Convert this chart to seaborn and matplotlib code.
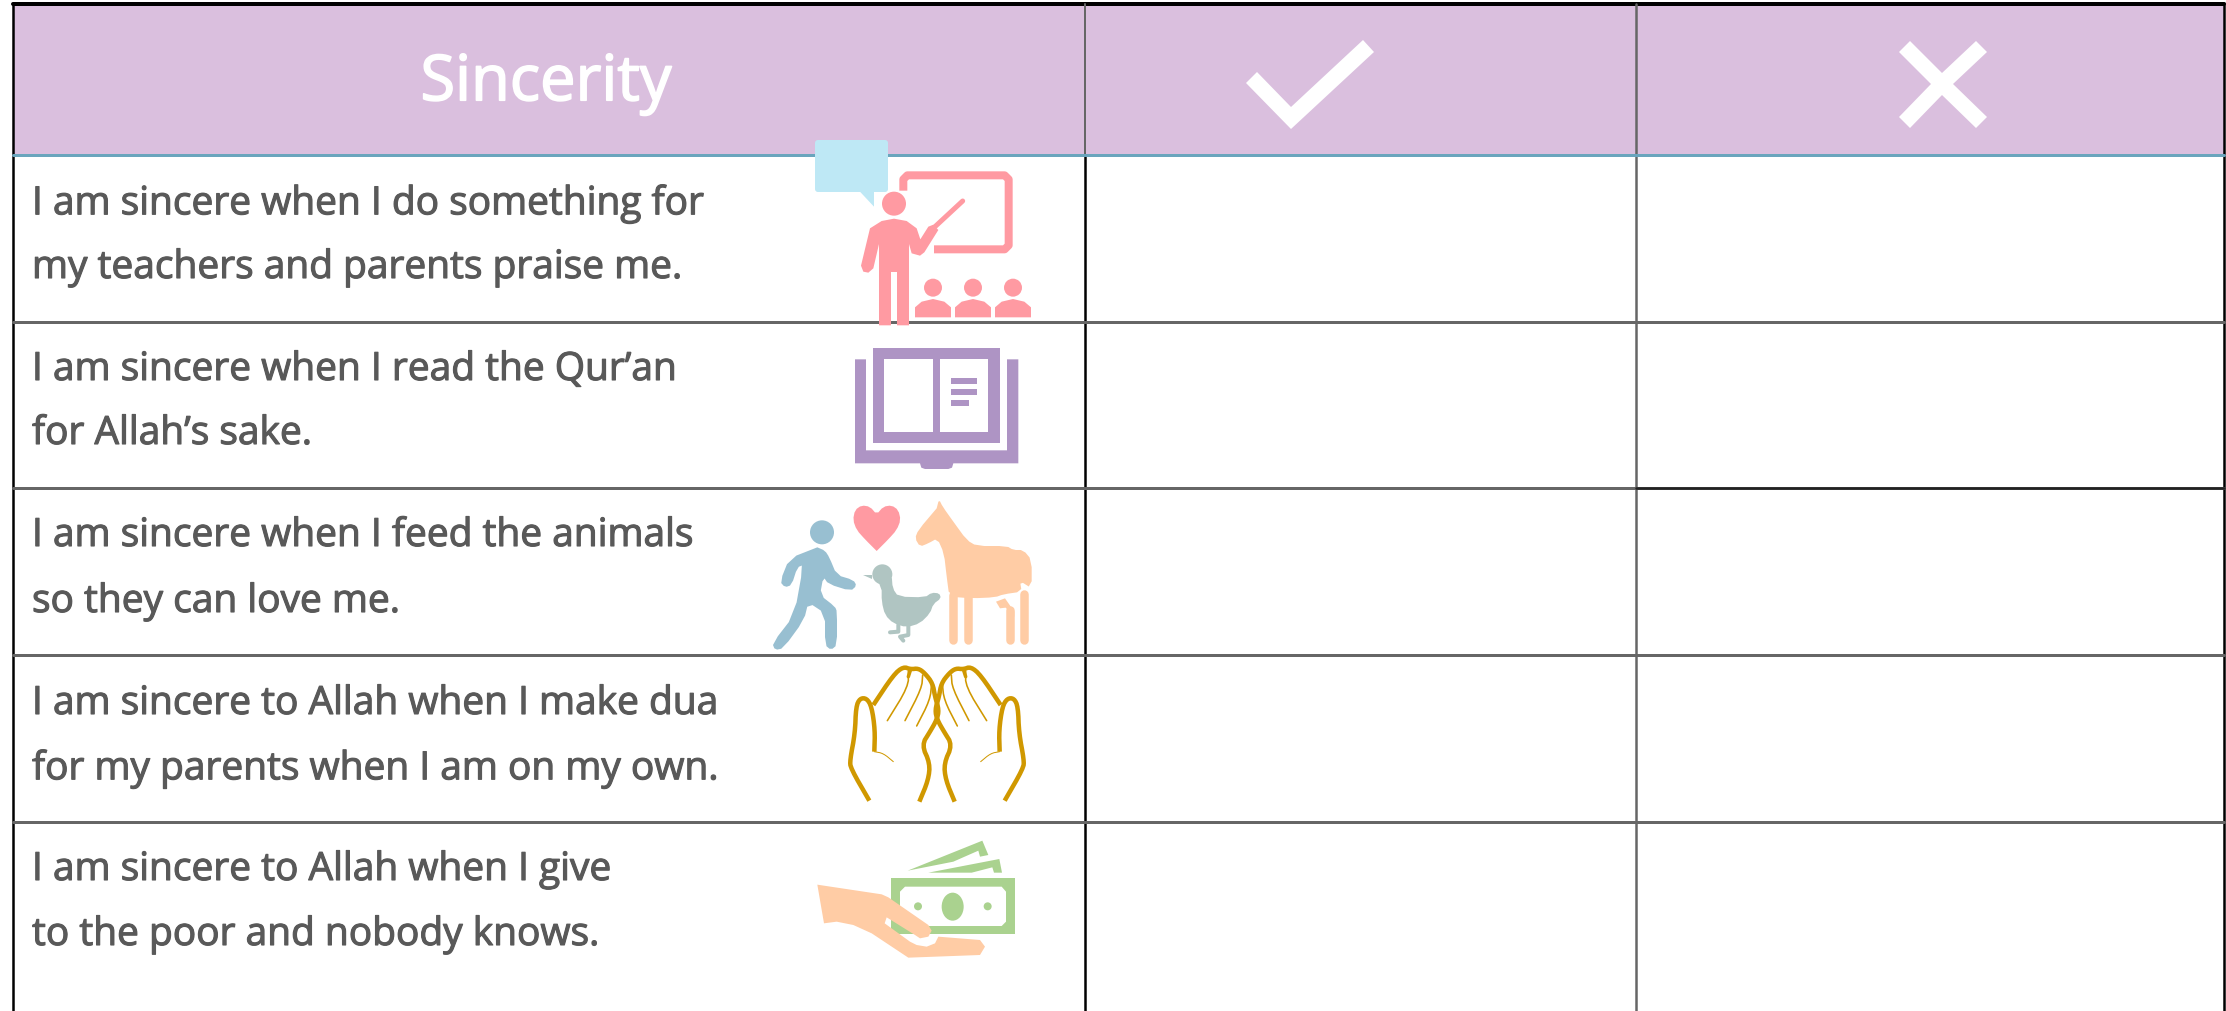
import matplotlib

matplotlib.use("Agg")

import matplotlib.patheffects as pe
import matplotlib.pyplot as plt
import numpy as np
import seaborn as sns
from matplotlib.colors import ListedColormap
from matplotlib.patches import Circle, Ellipse, FancyBboxPatch, Polygon

WIDTH = 2226
HEIGHT = 1011

HEADER_TITLE = "Sincerity"
ROW_LINES = [
    ["I am sincere when I do something for", "my teachers and parents praise me."],
    ["I am sincere when I read the Qur’an", "for Allah’s sake."],
    ["I am sincere when I feed the animals", "so they can love me."],
    ["I am sincere to Allah when I make dua", "for my parents when I am on my own."],
    ["I am sincere to Allah when I give", "to the poor and nobody knows."],
]
LINE_CENTERS = [(204, 268), (370, 434), (536, 602), (704, 769), (870, 935)]
ROW_EDGES = [322, 488, 655, 822]
COLUMN_EDGES = [13, 1085, 1636, 2224]

PURPLE = "#DABFDE"
TEXT_GREY = "#595959"
LINE_GREY = "#666666"
TEAL = "#6AA5BD"
PINK = "#FF9AA2"
BUBBLE = "#BEE8F5"
LILAC = "#AE94C4"
BLUE = "#98BFD1"
DUCK = "#B0C5C2"
PEACH = "#FFCCA5"
GOLD = "#D09800"
GREEN = "#AAD28F"


def px(width):
    return width * 72 / 100


def zoom_a(points):
    # icon outlines for rows 1 and 2, traced at 3x from x=740, y=120
    return [(740 + x / 3, 120 + y / 3) for x, y in points]


def zoom_b(points):
    # icon outlines for rows 3 to 5, traced at 3x from x=740, y=480
    return [(740 + x / 3, 480 + y / 3) for x, y in points]


def smooth(points, rounds=2):
    for _ in range(rounds):
        pts = np.array(points, dtype=float)
        left = pts[:-1] * 0.75 + pts[1:] * 0.25
        right = pts[:-1] * 0.25 + pts[1:] * 0.75
        middle = np.empty((left.shape[0] * 2, 2))
        middle[0::2] = left
        middle[1::2] = right
        points = [tuple(pts[0]), *map(tuple, middle), tuple(pts[-1])]
    return points


def smooth_closed(points, rounds=2):
    return smooth([*points, points[0]], rounds)


def fill(ax, points, color, z=5):
    ax.add_patch(Polygon(points, closed=True, facecolor=color, edgecolor="none", zorder=z))


def stroke(ax, points, color, width, z=5, cap="round"):
    xs, ys = zip(*points)
    ax.plot(xs, ys, color=color, lw=px(width), solid_capstyle=cap,
            solid_joinstyle="round", zorder=z)


def draw_grid(ax):
    bottom = HEIGHT
    ax.plot([13, 2224], [4, 4], color="black", lw=px(4), zorder=3)
    ax.plot([13, 13], [3, bottom], color="black", lw=px(2.5), zorder=3)
    ax.plot([2224, 2224], [3, bottom], color="black", lw=px(2.5), zorder=3)
    ax.plot([1085, 1085], [4, 155], color=LINE_GREY, lw=px(2), zorder=3)
    ax.plot([1085, 1085], [155, bottom], color="black", lw=px(2.5), zorder=3)
    ax.plot([1636, 1636], [4, bottom], color=LINE_GREY, lw=px(2.5), zorder=3)
    ax.plot([13, 2224], [155, 155], color=TEAL, lw=px(3), zorder=3)
    for y in ROW_EDGES:
        ax.plot([13, 2224], [y, y], color=LINE_GREY, lw=px(3), zorder=3)
    ax.plot([1636, 2224], [488, 488], color="#222222", lw=px(2.5), zorder=3)


def draw_header_marks(ax):
    check = [(1246, 83), (1257, 72), (1291, 107), (1363, 40), (1374, 52), (1291, 129)]
    cross = [
        (1910, 41), (1942, 73), (1976, 41), (1987, 52), (1953, 84), (1987, 117),
        (1976, 128), (1942, 95), (1910, 128), (1899, 117), (1931, 84), (1899, 52),
    ]
    fill(ax, check, "white")
    fill(ax, cross, "white")


def draw_teacher(ax):
    bubble = FancyBboxPatch((817, 142), 69, 48, boxstyle="round,pad=2,rounding_size=3",
                            facecolor=BUBBLE, edgecolor="none", zorder=5)
    ax.add_patch(bubble)
    fill(ax, zoom_a([(358, 213), (402, 260), (402, 213)]), BUBBLE)

    board = [(490, 212), (490, 178), (502, 166), (794, 166), (806, 178),
             (806, 376), (794, 388), (582, 388)]
    stroke(ax, zoom_a(board), PINK, 8, cap="butt")

    cx, cy = zoom_a([(462, 251)])[0]
    ax.add_patch(Circle((cx, cy), 12, facecolor=PINK, edgecolor="none", zorder=6))
    body = [
        (390, 325), (425, 303), (462, 296), (500, 303), (530, 325), (541, 358),
        (565, 320), (580, 314), (595, 330), (553, 397), (540, 407), (515, 400),
        (507, 372), (507, 616), (471, 616), (471, 456), (453, 456), (453, 616),
        (417, 616), (417, 372), (400, 445), (385, 458), (370, 455), (363, 437),
    ]
    fill(ax, zoom_a(body), PINK, z=6)
    stroke(ax, zoom_a([(585, 320), (668, 243)]), PINK, 5, z=6)

    for shift in (0, 120, 240):
        hx, hy = zoom_a([(579 + shift, 503)])[0]
        ax.add_patch(Circle((hx, hy), 9, facecolor=PINK, edgecolor="none", zorder=5))
        seat = [(525, 592), (525, 562), (545, 545), (579, 537), (613, 545), (633, 562), (633, 592)]
        fill(ax, zoom_a([(x + shift, y) for x, y in seat]), PINK)


def draw_book(ax):
    fill(ax, zoom_a([(400, 685), (779, 685), (779, 968), (400, 968)]), LILAC)
    fill(ax, zoom_a([(433, 718), (579, 718), (579, 935), (433, 935)]), "white")
    fill(ax, zoom_a([(600, 718), (745, 718), (745, 935), (600, 935)]), "white")
    for top, right in ((774, 711), (807, 711), (840, 687)):
        fill(ax, zoom_a([(633, top), (right, top), (right, top + 18), (633, top + 18)]), LILAC)
    cover = [(345, 718), (378, 718), (378, 991), (801, 991), (801, 718), (835, 718),
             (835, 1030), (640, 1030), (636, 1043), (625, 1047), (555, 1047), (544, 1043),
             (540, 1030), (345, 1030)]
    fill(ax, zoom_a(cover), LILAC)


def draw_animals(ax):
    # walking man
    cx, cy = zoom_b([(246, 157)])[0]
    ax.add_patch(Circle((cx, cy), 12, facecolor=BLUE, edgecolor="none", zorder=5))
    man = [(232, 202), (255, 212), (268, 232), (290, 285), (340, 300), (350, 317),
           (332, 333), (265, 312), (250, 290), (240, 345), (285, 380), (291, 395),
           (291, 495), (273, 510), (255, 495), (255, 400), (205, 367), (192, 420),
           (130, 505), (105, 510), (97, 490), (163, 405), (190, 255), (172, 262),
           (155, 315), (135, 322), (120, 305), (148, 235)]
    fill(ax, zoom_b(smooth_closed(man, 1)), BLUE)

    heart = [(410, 213), (375, 178), (350, 150), (339, 120), (345, 90), (365, 76),
             (390, 80), (410, 103), (430, 80), (455, 76), (475, 90), (482, 120),
             (470, 150), (445, 178)]
    fill(ax, zoom_b(smooth_closed(heart, 1)), PINK)

    # duck
    cx, cy = zoom_b([(427, 283)])[0]
    ax.add_patch(Circle((cx, cy), 10, facecolor=DUCK, edgecolor="none", zorder=5))
    fill(ax, zoom_b([(368, 285), (395, 285), (395, 298)]), DUCK)
    duck = [(398, 290), (455, 285), (458, 325), (475, 350), (555, 352), (575, 338),
            (598, 340), (603, 355), (580, 372), (570, 400), (540, 430), (500, 442),
            (460, 430), (435, 405), (425, 365), (425, 320)]
    fill(ax, zoom_b(smooth_closed(duck, 1)), DUCK)
    stroke(ax, zoom_b([(475, 435), (475, 455), (450, 457)]), DUCK, 4)
    stroke(ax, zoom_b([(505, 438), (505, 465), (480, 470), (490, 482)]), DUCK, 4)

    # horse
    horse = [(590, 85), (597, 58), (608, 80), (640, 125), (680, 180), (710, 198),
             (800, 198), (820, 210), (850, 210), (875, 240), (875, 325), (840, 303),
             (845, 335), (790, 343), (765, 352), (695, 355), (628, 350), (620, 290),
             (612, 220), (592, 175), (565, 190), (540, 200), (525, 175), (535, 150)]
    fill(ax, zoom_b(smooth_closed(horse, 1)), PEACH)
    for x in (640, 683):
        stroke(ax, zoom_b([(x, 345), (x, 480)]), PEACH, 8.5)
    stroke(ax, zoom_b([(810, 390), (810, 480)]), PEACH, 8.5)
    stroke(ax, zoom_b([(853, 343), (853, 480)]), PEACH, 8.5)
    fill(ax, zoom_b([(768, 365), (795, 355), (823, 395), (823, 410), (797, 383), (780, 385)]), PEACH)


def draw_hands(ax):
    outer = [(388, 962), (332, 865), (330, 840), (345, 760), (348, 680), (360, 655),
             (380, 655), (395, 680), (405, 750), (403, 815)]
    palm = [(400, 675), (460, 585), (490, 560), (512, 568), (535, 565), (555, 580),
            (578, 610), (585, 650), (597, 690), (590, 720), (570, 755), (545, 795),
            (570, 850), (565, 900), (538, 965)]
    thumb = [(403, 815), (430, 820), (460, 845)]
    fingers = [
        [(505, 572), (505, 620), (442, 722)],
        [(548, 585), (545, 625), (495, 722)],
        [(575, 610), (570, 660), (530, 738)],
    ]
    for mirror in (False, True):
        def place(points):
            flipped = [(1182 - x, y) if mirror else (x, y) for x, y in points]
            return zoom_b(smooth(flipped))

        stroke(ax, place(outer), GOLD, 4.5, cap="butt")
        stroke(ax, place(palm), GOLD, 4.5, cap="butt")
        stroke(ax, place(thumb), GOLD, 1)
        for finger in fingers:
            stroke(ax, place(finger), GOLD, 1.6)
        stroke(ax, place([(512, 568), (505, 590)]), GOLD, 3.5)


def draw_money(ax):
    fill(ax, zoom_b([(503, 1172), (727, 1082), (745, 1125), (720, 1130), (715, 1112), (640, 1145)]), GREEN)
    fill(ax, zoom_b([(565, 1178), (778, 1137), (786, 1178), (762, 1178), (757, 1162), (695, 1178)]), GREEN)
    fill(ax, zoom_b([(453, 1195), (824, 1195), (824, 1363), (453, 1363)]), GREEN)
    inner = [(480, 1235), (495, 1220), (785, 1220), (798, 1235), (798, 1325),
             (785, 1338), (495, 1338), (480, 1325)]
    fill(ax, zoom_b(inner), "white")
    cx, cy = zoom_b([(638, 1280)])[0]
    ax.add_patch(Ellipse((cx, cy), 22, 28, facecolor=GREEN, edgecolor="none", zorder=5))
    for x in (534, 743):
        dx, dy = zoom_b([(x, 1279)])[0]
        ax.add_patch(Circle((dx, dy), 4, facecolor=GREEN, edgecolor="none", zorder=5))
    hand = [(232, 1214), (425, 1243), (445, 1252), (565, 1335), (575, 1352), (565, 1370),
            (540, 1375), (525, 1365), (440, 1312), (434, 1330), (510, 1385), (530, 1395),
            (560, 1400), (585, 1390), (595, 1370), (720, 1380), (735, 1400), (720, 1425),
            (505, 1433), (395, 1360), (340, 1335), (290, 1325), (252, 1330)]
    fill(ax, zoom_b(hand), PEACH, z=6)


def main():
    sns.set_theme(style="white")
    plt.rcParams["font.family"] = ["Open Sans", "DejaVu Sans"]

    fig = plt.figure(figsize=(WIDTH / 100, HEIGHT / 100), dpi=100, facecolor="white")

    # header band is a one-row heatmap, one cell per column
    for left, right in zip(COLUMN_EDGES[:-1], COLUMN_EDGES[1:]):
        cell = fig.add_axes([left / WIDTH, 1 - 155 / HEIGHT, (right - left) / WIDTH, 151 / HEIGHT])
        sns.heatmap(np.zeros((1, 1)), cmap=ListedColormap([PURPLE]), cbar=False,
                    xticklabels=False, yticklabels=False, ax=cell)

    ax = fig.add_axes([0, 0, 1, 1], facecolor="none")
    ax.set_xlim(0, WIDTH)
    ax.set_ylim(HEIGHT, 0)
    ax.axis("off")

    draw_grid(ax)
    title = ax.text(546, 84, HEADER_TITLE, color="white", fontsize=45.5,
                    ha="center", va="center", zorder=5)
    title.set_path_effects([pe.withStroke(linewidth=1.2, foreground="white")])
    draw_header_marks(ax)

    for lines, centers in zip(ROW_LINES, LINE_CENTERS):
        for line, y in zip(lines, centers):
            label = ax.text(32, y, line, color=TEXT_GREY, fontsize=28,
                            ha="left", va="center", zorder=5)
            label.set_path_effects([pe.withStroke(linewidth=0.8, foreground=TEXT_GREY)])

    draw_teacher(ax)
    draw_book(ax)
    draw_animals(ax)
    draw_hands(ax)
    draw_money(ax)

    fig.savefig("out.png", dpi=100, facecolor="white")
    plt.close(fig)


if __name__ == "__main__":
    main()
